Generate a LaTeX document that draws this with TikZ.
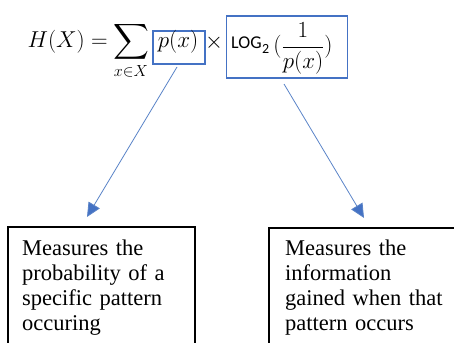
\documentclass[tikz,border=0pt]{standalone}
\usepackage{fix-cm}
\usepackage{amsmath}
\usepackage{fontspec}
\setmainfont{Liberation Serif}
\newfontfamily\logfont{Carlito}
\usetikzlibrary{arrows.meta}
\definecolor{ofblue}{HTML}{4472C4}
\definecolor{lineblue}{HTML}{5B84C8}
\begin{document}
\begin{tikzpicture}[x=1pt,y=-1pt,
  fbox/.style={draw=ofblue, line width=1.8pt, inner sep=0pt, anchor=north west},
  tbox/.style={draw=black, line width=1.8pt, anchor=north west, inner sep=0pt},
  note/.style={anchor=north west, inner sep=0pt, align=left, text width=185pt,
    font=\fontsize{22.5}{25}\selectfont},
  conn/.style={draw=lineblue, line width=0.8pt, -{Triangle[length=14pt,width=13pt,fill=ofblue]}},
  mtxt/.style={font=\fontsize{23}{26}\selectfont, inner sep=0pt}]
\useasboundingbox (0,0) rectangle (454,342);
\clip (0,0) rectangle (454,342);
% formula
\node[mtxt, anchor=base east] (hx) at (108,47.5) {$H(X) =$};
\node[mtxt, anchor=base] (sum) at (131,47.5) {$\displaystyle\sum_{x\in X}$};
\node[fbox, minimum width=52pt, minimum height=33pt] (pb) at (152,30) {};
\node[mtxt, anchor=base] (px) at (178,47.5) {$p(x)$};
\node[mtxt, anchor=base] (times) at (214,48.5) {$\times$};
\node[fbox, minimum width=121pt, minimum height=62pt] (lb) at (225.5,15) {};
\node[anchor=base west, inner sep=0pt, font=\logfont\fontsize{18}{20}\selectfont] (log) at (231,49) {LOG};
\node[anchor=base west, inner sep=0pt, font=\logfont\fontsize{14}{16}\selectfont] (two) at (log.base east) [yshift=-5pt] {2};
\node[mtxt, anchor=base] (frac) at (303,52.75) {$(\dfrac{1}{p(x)})$};
% bottom boxes
\node[tbox, minimum width=187pt, minimum height=130pt] (b1) at (7,226) {};
\node[tbox, minimum width=200pt, minimum height=130pt] (b2) at (268,227) {};
\node[note] (t1) at (22,239.5) {Measures the\\probability of a\\specific pattern\\occuring};
\node[note] (t2) at (285,239.5) {Measures the\\information\\gained when that\\pattern occurs};
% connectors
\coordinate (s1) at (177,67);
\coordinate (e1) at (87,217);
\coordinate (s2) at (284,84);
\coordinate (e2) at (364,218);
\draw[conn] (s1) -- (e1);
\draw[conn] (s2) -- (e2);
\end{tikzpicture}
\end{document}
